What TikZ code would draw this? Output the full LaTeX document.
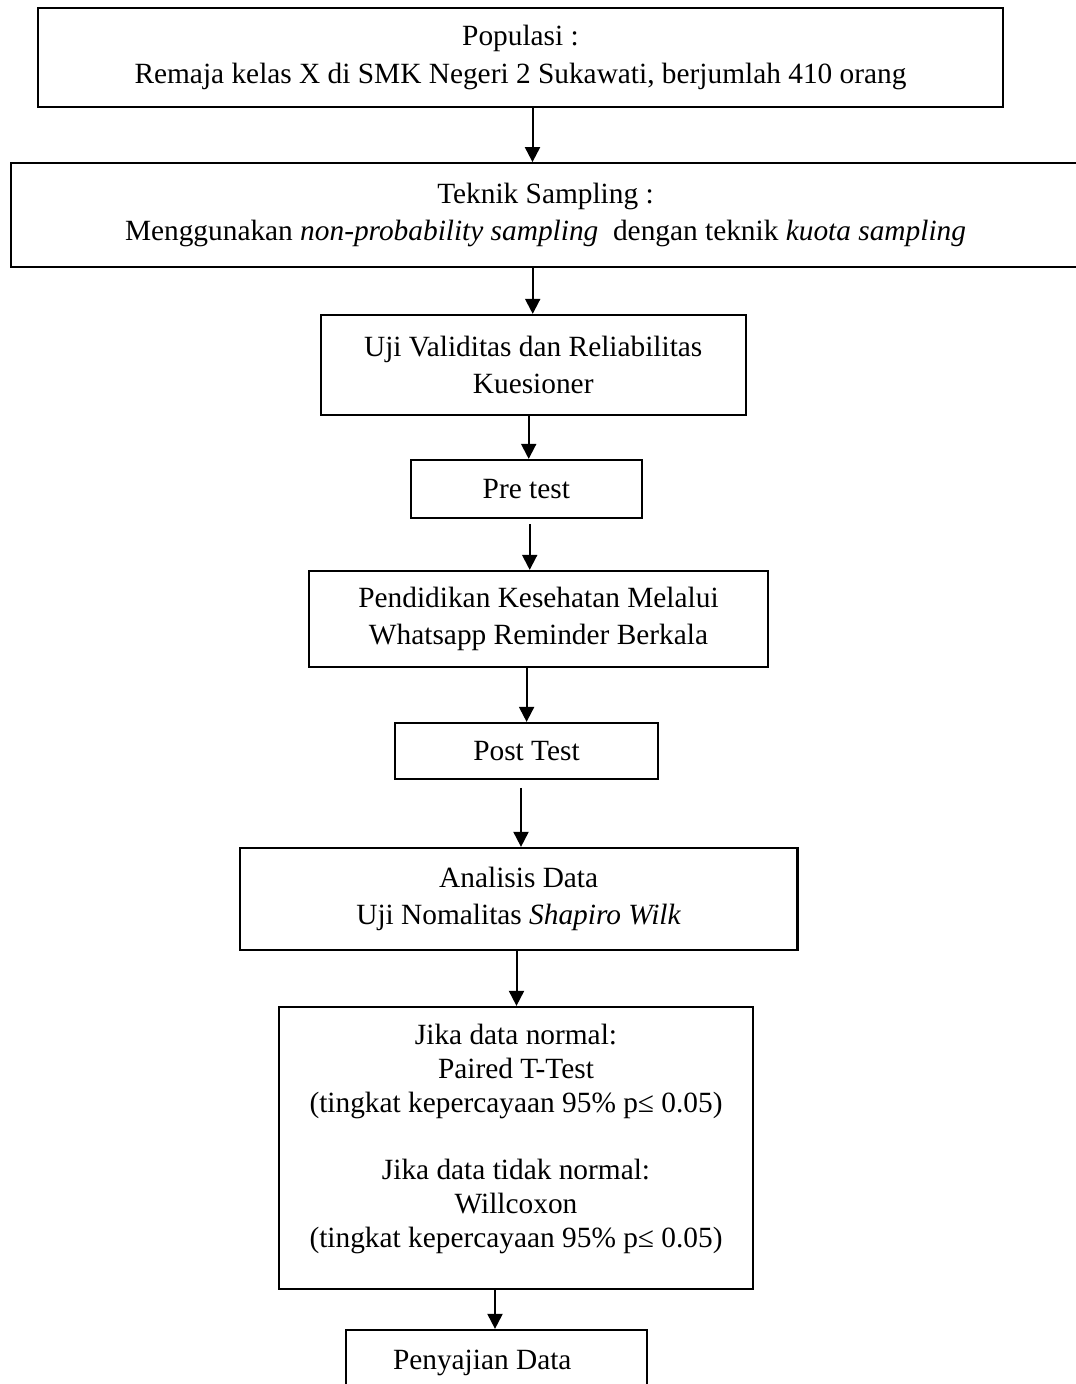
\documentclass[tikz,border=0pt]{standalone}
\usepackage{fontspec}
\setmainfont{Liberation Serif}
\usepackage{tikz}
\usetikzlibrary{positioning,arrows.meta}
\tikzset{
    kotak/.style={draw, line width=0.9pt, inner sep=0pt, align=center,
        font=\fontsize{11.74}{15.1}\selectfont},
    panah/.style={-{Triangle[width=6pt,length=6pt]}, line width=0.8pt}
}

\begin{document}
\begin{tikzpicture}[x=0.4pt,y=-0.4pt]
            \useasboundingbox (0,0) rectangle (1075,1384);

            \node[kotak, minimum width=386pt, minimum height=39.6pt] (populasi) at (520.5,57.5)
                {Populasi :\\Remaja kelas X di SMK Negeri 2 Sukawati, berjumlah 410 orang};
            \node[kotak, minimum width=427.6pt, minimum height=41.4pt] (teknik) at (545.5,215)
                {Teknik Sampling :\\Menggunakan \textit{non-probability sampling}\ \ dengan teknik \textit{kuota sampling}};
            \node[kotak, minimum width=170pt, minimum height=40pt] (uji) at (533.2,365)
                {Uji Validitas dan Reliabilitas\\Kuesioner};
            \node[kotak, minimum width=92.5pt, minimum height=23.2pt] (pre) at (526.3,489) {Pre test};
            \node[kotak, minimum width=183.6pt, minimum height=38.4pt] (pendidikan) at (538.5,619)
                {Pendidikan Kesehatan Melalui\\Whatsapp Reminder Berkala};
            \node[kotak, minimum width=105.2pt, minimum height=22.4pt] (post) at (526.5,751) {Post Test};
            \node[kotak, minimum width=223pt, minimum height=40.8pt] (analisis) at (518.7,899)
                {Analisis Data\\Uji Nomalitas \textit{Shapiro Wilk}};
            \node[kotak, minimum width=189.6pt, minimum height=112.8pt,
                font=\fontsize{11.74}{13.5}\selectfont] (jika) at (516,1148)
                {Jika data normal:\\Paired T-Test\\(tingkat kepercayaan 95\% p≤ 0.05)\\[13.5pt]
                 Jika data tidak normal:\\Willcoxon\\(tingkat kepercayaan 95\% p≤ 0.05)\rule[-9.8pt]{0pt}{0pt}};
            \node[kotak, minimum height=26pt, text width=82.8pt, align=flush left, inner xsep=18.8pt] (saji)
                at (496.5,1362.5) {Penyajian Data};

            \draw[panah] (populasi.south -| 532.5,0) -- (teknik.north -| 532.5,0);
            \draw[panah] (teknik.south -| 532.7,0) -- (uji.north -| 532.7,0);
            \draw[panah] (uji.south -| 528.7,0) -- (pre.north -| 528.7,0);
            \draw[panah, shorten <=2pt] (pre.south -| 529.7,0) -- (pendidikan.north -| 529.7,0);
            \draw[panah] (pendidikan.south -| 526.6,0) -- (post.north -| 526.6,0);
            \draw[panah, shorten <=3.1pt] (post.south -| 521,0) -- (analisis.north -| 521,0);
            \draw[panah] (analisis.south -| 516.5,0) -- (jika.north -| 516.5,0);
            \draw[panah] (jika.south -| 495,0) -- (saji.north -| 495,0);
\end{tikzpicture}
\end{document}
